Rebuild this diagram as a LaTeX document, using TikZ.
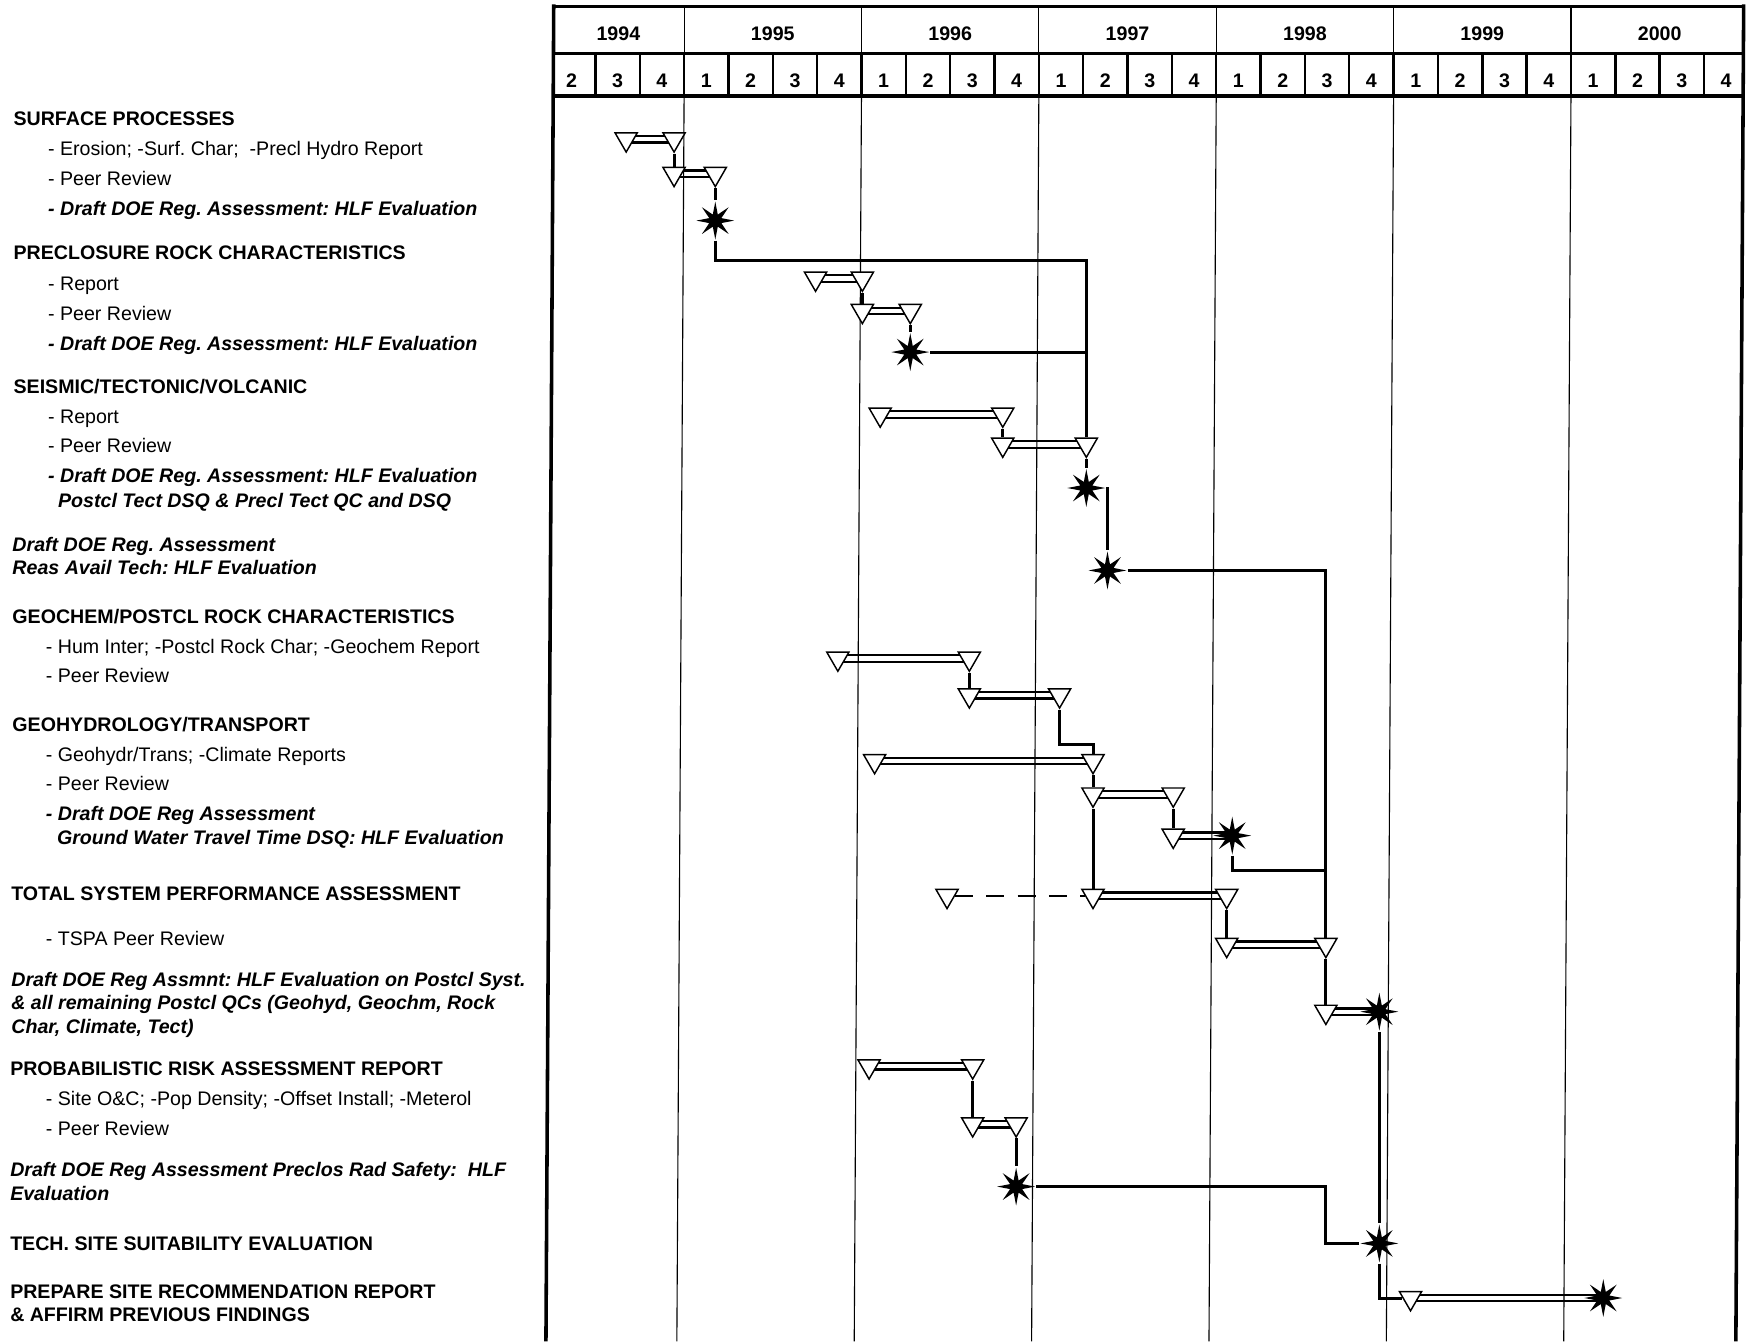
\documentclass[tikz,border=0pt]{standalone}
\usepackage{fontspec}
\setmainfont{Liberation Sans}
\usetikzlibrary{shapes.geometric,backgrounds}
\newcommand{\chartfont}{\fontsize{17.6}{21}\selectfont\frenchspacing}
\tikzset{
  lab/.style={anchor=west, inner sep=0pt, text height=12.6pt, text depth=0pt},
  hd/.style={lab, font=\chartfont\bfseries},
  sub/.style={lab, font=\chartfont},
  drf/.style={lab, font=\chartfont\bfseries\itshape},
  num/.style={inner sep=0pt, text height=12.6pt, text depth=0pt, font=\chartfont\bfseries},
  tri/.style={draw, fill=white, line width=1.3pt, regular polygon, regular polygon sides=3, shape border rotate=180, minimum size=23pt, inner sep=0pt},
  mile/.style={star, star points=8, star point ratio=2.9, fill=black, minimum size=34pt, inner sep=0pt},
  link/.style={line width=2.7pt},
  grid/.style={line width=1pt},
  bar/.style={double, double distance=3.8pt, line width=2pt},
  dashlink/.style={line width=2.2pt, dash pattern=on 16pt off 12pt}
}

\begin{document}
\begin{tikzpicture}[x=1pt,y=-1pt]
	\useasboundingbox (0,0) rectangle (1568,1204);
	
	%%%%% HEADER %%%%%
	\draw[line width=2.6pt] (496,6) -- (1565,6);
	\draw[line width=2.6pt] (496,48) -- (1565,48);
	\draw[line width=3.2pt] (496,86) -- (1565,86);
	\draw[line width=3.2pt] (497,4) -- (490,1204);
	\draw[line width=3.2pt] (1565,4) -- (1558,1204);
	
	\draw[grid] (614,6) -- (614,48) (773.2,6) -- (773.2,48) (932.4,6) -- (932.4,48);
	\draw[grid] (1091.6,6) -- (1091.6,48) (1250.8,6) -- (1250.8,48) (1410,6) -- (1410,48);
	
	\draw[line width=2.2pt] (534.4,48) -- (534.4,86) (574.2,48) -- (574.2,86) (614,48) -- (614,86);
	\draw[line width=2.2pt] (653.8,48) -- (653.8,86) (693.6,48) -- (693.6,86) (733.4,48) -- (733.4,86) (773.2,48) -- (773.2,86);
	\draw[line width=2.2pt] (813,48) -- (813,86) (852.8,48) -- (852.8,86) (892.6,48) -- (892.6,86) (932.4,48) -- (932.4,86);
	\draw[line width=2.2pt] (972.2,48) -- (972.2,86) (1012,48) -- (1012,86) (1051.8,48) -- (1051.8,86) (1091.6,48) -- (1091.6,86);
	\draw[line width=2.2pt] (1131.4,48) -- (1131.4,86) (1171.2,48) -- (1171.2,86) (1211,48) -- (1211,86) (1250.8,48) -- (1250.8,86);
	\draw[line width=2.2pt] (1290.6,48) -- (1290.6,86) (1330.4,48) -- (1330.4,86) (1370.2,48) -- (1370.2,86) (1410,48) -- (1410,86);
	\draw[line width=2.2pt] (1449.8,48) -- (1449.8,86) (1489.6,48) -- (1489.6,86) (1529.4,48) -- (1529.4,86);
	
	% year lines through the chart
	\draw[grid] (614,86) -- (607.5,1204);
	\draw[grid] (773.2,86) -- (766.7,1204);
	\draw[grid] (932.4,86) -- (925.9,1204);
	\draw[grid] (1091.6,86) -- (1085.1,1204);
	\draw[grid] (1250.8,86) -- (1244.3,1204);
	\draw[grid] (1410,86) -- (1403.5,1204);
	
	\node[num] (y94) at (555,30) {1994};
	\node[num] (y95) at (693.6,30) {1995};
	\node[num] (y96) at (852.8,30) {1996};
	\node[num] (y97) at (1012,30) {1997};
	\node[num] (y98) at (1171.2,30) {1998};
	\node[num] (y99) at (1330.4,30) {1999};
	\node[num] (y00) at (1489.6,30) {2000};
	
	\node[num] (q942) at (513,72) {2};
	\node[num] (q943) at (554.3,72) {3};
	\node[num] (q944) at (594.1,72) {4};
	\node[num] (q951) at (633.9,72) {1};
	\node[num] (q952) at (673.7,72) {2};
	\node[num] (q953) at (713.5,72) {3};
	\node[num] (q954) at (753.3,72) {4};
	\node[num] (q961) at (793.1,72) {1};
	\node[num] (q962) at (832.9,72) {2};
	\node[num] (q963) at (872.7,72) {3};
	\node[num] (q964) at (912.5,72) {4};
	\node[num] (q971) at (952.3,72) {1};
	\node[num] (q972) at (992.1,72) {2};
	\node[num] (q973) at (1031.9,72) {3};
	\node[num] (q974) at (1071.7,72) {4};
	\node[num] (q981) at (1111.5,72) {1};
	\node[num] (q982) at (1151.3,72) {2};
	\node[num] (q983) at (1191.1,72) {3};
	\node[num] (q984) at (1230.9,72) {4};
	\node[num] (q991) at (1270.7,72) {1};
	\node[num] (q992) at (1310.5,72) {2};
	\node[num] (q993) at (1350.3,72) {3};
	\node[num] (q994) at (1390.1,72) {4};
	\node[num] (q001) at (1429.9,72) {1};
	\node[num] (q002) at (1469.7,72) {2};
	\node[num] (q003) at (1509.5,72) {3};
	\node[num] (q004) at (1549.3,72) {4};
	
	%%%%% LABELS %%%%%
	\node[hd] (surf) at (12,106) {SURFACE PROCESSES};
	\node[sub] (surf1) at (43,133) {- Erosion; -Surf. Char;~ -Precl Hydro Report};
	\node[sub] (surf2) at (43,160) {- Peer Review};
	\node[drf] (surf3) at (43,187) {- Draft DOE Reg. Assessment: HLF Evaluation};
	
	\node[hd] (precl) at (12,227) {PRECLOSURE ROCK CHARACTERISTICS};
	\node[sub] (precl1) at (43,254) {- Report};
	\node[sub] (precl2) at (43,281) {- Peer Review};
	\node[drf] (precl3) at (43,308) {- Draft DOE Reg. Assessment: HLF Evaluation};
	
	\node[hd] (seis) at (12,347) {SEISMIC/TECTONIC/VOLCANIC};
	\node[sub] (seis1) at (43,374) {- Report};
	\node[sub] (seis2) at (43,400) {- Peer Review};
	\node[drf] (seis3) at (43,427) {- Draft DOE Reg. Assessment: HLF Evaluation};
	\node[drf] (seis4) at (52,449) {Postcl Tect DSQ \& Precl Tect QC and DSQ};
	
	\node[drf] (reas1) at (11,489) {Draft DOE Reg. Assessment};
	\node[drf] (reas2) at (11,509) {Reas Avail Tech: HLF Evaluation};
	
	\node[hd] (geoc) at (11,553) {GEOCHEM/POSTCL ROCK CHARACTERISTICS};
	\node[sub] (geoc1) at (41,580) {- Hum Inter; -Postcl Rock Char; -Geochem Report};
	\node[sub] (geoc2) at (41,606) {- Peer Review};
	
	\node[hd] (hydr) at (11,650) {GEOHYDROLOGY/TRANSPORT};
	\node[sub] (hydr1) at (41,677) {- Geohydr/Trans; -Climate Reports};
	\node[sub] (hydr2) at (41,703) {- Peer Review};
	\node[drf] (hydr3) at (41,730) {- Draft DOE Reg Assessment};
	\node[drf] (hydr4) at (51,752) {Ground Water Travel Time DSQ: HLF Evaluation};
	
	\node[hd] (tspa) at (10,802) {TOTAL SYSTEM PERFORMANCE ASSESSMENT};
	\node[sub] (tspa1) at (41,842) {- TSPA Peer Review};
	\node[drf] (syst1) at (10,879) {Draft DOE Reg Assmnt: HLF Evaluation on Postcl Syst.};
	\node[drf] (syst2) at (10,900) {\& all remaining Postcl QCs (Geohyd, Geochm, Rock};
	\node[drf] (syst3) at (10,921) {Char, Climate, Tect)};
	
	\node[hd] (pra) at (9,959) {PROBABILISTIC RISK ASSESSMENT REPORT};
	\node[sub] (pra1) at (41,986) {- Site O\&C; -Pop Density; -Offset Install; -Meterol};
	\node[sub] (pra2) at (41,1013) {- Peer Review};
	\node[drf] (rad1) at (9,1050) {Draft DOE Reg Assessment Preclos Rad Safety:~ HLF};
	\node[drf] (rad2) at (9,1071) {Evaluation};
	
	\node[hd] (tech) at (9,1116) {TECH. SITE SUITABILITY EVALUATION};
	\node[hd] (prep1) at (9,1159) {PREPARE SITE RECOMMENDATION REPORT};
	\node[hd] (prep2) at (9,1180) {\& AFFIRM PREVIOUS FINDINGS};
	
	%%%%% TASKS %%%%%
	\node[tri] (a1s) at (562,125) {};
	\node[tri] (a1e) at (605,125) {};
	\node[tri] (a2s) at (605,156) {};
	\node[tri] (a2e) at (642,156) {};
	\node[mile] (m1) at (642,198) {};
	
	\node[tri] (b1s) at (732,250) {};
	\node[tri] (b1e) at (774,250) {};
	\node[tri] (b2s) at (774,279) {};
	\node[tri] (b2e) at (817,279) {};
	\node[mile] (m2) at (817,316) {};
	
	\node[tri] (c1s) at (790,372) {};
	\node[tri] (c1e) at (900,372) {};
	\node[tri] (c2s) at (900,399) {};
	\node[tri] (c2e) at (975,399) {};
	\node[mile] (m3) at (975,438) {};
	\node[mile] (m4) at (994,512) {};
	
	\node[tri] (d1s) at (752,591) {};
	\node[tri] (d1e) at (870,591) {};
	\node[tri] (d2s) at (870,624) {};
	\node[tri] (d2e) at (951,624) {};
	
	\node[tri] (e1s) at (785,683) {};
	\node[tri] (e1e) at (981,683) {};
	\node[tri] (e2s) at (981,713) {};
	\node[tri] (e2e) at (1053,713) {};
	\node[tri] (e3s) at (1053,750) {};
	\node[mile] (m5) at (1106,750) {};
	
	\node[tri] (f0) at (850,804) {};
	\node[tri] (f1s) at (981,804) {};
	\node[tri] (f1e) at (1101,804) {};
	\node[tri] (f2s) at (1101,848) {};
	\node[tri] (f2e) at (1190,848) {};
	\node[tri] (f3s) at (1190,908) {};
	\node[mile] (m6) at (1238,908) {};
	
	\node[tri] (g1s) at (780,957) {};
	\node[tri] (g1e) at (873,957) {};
	\node[tri] (g2s) at (873,1009) {};
	\node[tri] (g2e) at (912,1009) {};
	\node[mile] (m7) at (912,1065) {};
	\node[mile] (m8) at (1238,1116) {};
	
	\node[tri] (h1s) at (1266,1165) {};
	\node[mile] (m9) at (1439,1165) {};
	
	% double bars behind the triangles
	\begin{scope}[on background layer]
		\draw[bar] (a1s.center) -- (a1e.center);
		\draw[bar] (a2s.center) -- (a2e.center);
		\draw[bar] (b1s.center) -- (b1e.center);
		\draw[bar] (b2s.center) -- (b2e.center);
		\draw[bar] (c1s.center) -- (c1e.center);
		\draw[bar] (c2s.center) -- (c2e.center);
		\draw[bar] (d1s.center) -- (d1e.center);
		\draw[bar] (d2s.center) -- (d2e.center);
		\draw[bar] (e1s.center) -- (e1e.center);
		\draw[bar] (e2s.center) -- (e2e.center);
		\draw[bar] (e3s.center) -- (m5.center);
		\draw[bar] (f1s.center) -- (f1e.center);
		\draw[bar] (f2s.center) -- (f2e.center);
		\draw[bar] (f3s.center) -- (m6.center);
		\draw[bar] (g1s.center) -- (g1e.center);
		\draw[bar] (g2s.center) -- (g2e.center);
		\draw[bar] (h1s.center) -- (m9.center);
	\end{scope}
	
	%%%%% LINKS %%%%%
	\draw[link] (a1e.south) -- (a2s.north);
	\draw[link] (a2e.south) -- (m1);
	\draw[link] (m1) |- (c2e.north |- 0,234) -- (c2e.north);
	\draw[link] (b1e.south) -- (b2s.north);
	\draw[link] (b2e.south) -- (m2);
	\draw[link] (m2) -- (m2 -| c2e.north);
	\draw[link] (c1e.south) -- (c2s.north);
	\draw[link] (c2e.south) -- (m3);
	\draw[link] (m3) -| (m4);
	\draw[link] (m4) -| (f2e.north);
	
	\draw[link] (d1e.south) -- (d2s.north);
	\draw[link] (d2e.south) |- (e1e.north |- 0,668) -- (e1e.north);
	\draw[link] (e1e.south) -- (e2s.north);
	\draw[link] (e2e.south) -- (e3s.north);
	\draw[link] (e2s.south) -- (f1s.north);
	\draw[link] (m5) |- (f2e.north |- 0,781);
	
	\draw[dashlink] (f0) -- (f1s);
	\draw[link] (f1e.south) -- (f2s.north);
	\draw[link] (f2e.south) -- (f3s.north);
	\draw[link] (m6) -- (m8);
	
	\draw[link] (g1e.south) -- (g2s.north);
	\draw[link] (g2e.south) -- (m7);
	\draw[link] (m7) -- (f2e |- m7) |- (m8);
	\draw[link] (m8) |- (h1s);
	
\end{tikzpicture}
\end{document}
